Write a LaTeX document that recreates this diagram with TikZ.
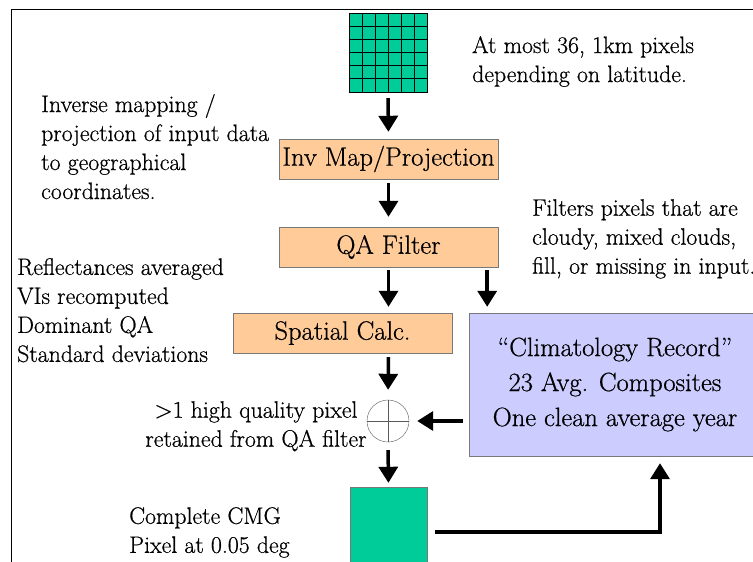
\documentclass[tikz,border=0pt]{standalone}
\usepackage{fontspec}
\setmainfont{Latin Modern Roman}[UprightFeatures={FakeBold=0.6}]
\usetikzlibrary{arrows.meta}

\definecolor{pixgreen}{RGB}{0,204,153}
\definecolor{peach}{RGB}{255,204,153}
\definecolor{lavender}{RGB}{204,204,255}
\definecolor{boxline}{RGB}{120,120,120}
\definecolor{circline}{RGB}{90,90,90}

\begin{document}
\begin{tikzpicture}[x=1pt,y=-1pt,
    flow/.style={line width=3.5pt,-{Triangle[width=19pt,length=16pt]}},
    stepbox/.style={draw=boxline,fill=peach,minimum width=219pt,minimum height=40pt,inner sep=0pt,font=\fontsize{26.5}{34}\selectfont},
    note/.style={anchor=north west,inner sep=0pt,align=left,font=\fontsize{23.8}{29}\selectfont}]
    \clip (0,0) rectangle (753,562);
    \draw [line width=1pt] (11,562) -- (11,9) -- (753,9);

    % input pixels
    \node [draw=black,fill=pixgreen,minimum width=78pt,minimum height=79pt,inner sep=0pt] (grid) at (388,52.5) {};
    \foreach \i in {1,...,5} {
      \draw [black] ([xshift=\i*13pt]grid.north west) -- ([xshift=\i*13pt]grid.south west);
      \draw [black] ([yshift=-\i*13.17pt]grid.north west) -- ([yshift=-\i*13.17pt]grid.north east);
    }

    % processing steps
    \node [stepbox] (inv) at (388.5,159) {Inv Map/Projection};
    \node [stepbox] (qa) at (388.5,247) {QA Filter};
    \node [stepbox] (spatial) at (342.5,333) {Spatial Calc.};
    \node [draw=boxline,fill=lavender,minimum width=292pt,minimum height=143pt,inner sep=0pt,align=center,font=\fontsize{26.5}{35}\selectfont] (clim) at (615,384.5) {“Climatology Record”\\23 Avg. Composites\\One clean average year};
    \node [draw=circline,circle,minimum size=42pt,inner sep=0pt,
      path picture={\draw [circline] (path picture bounding box.north) -- (path picture bounding box.south)
        (path picture bounding box.west) -- (path picture bounding box.east);}] (plus) at (388,421) {};
    \node [draw=boxline,fill=pixgreen,minimum width=77pt,minimum height=90pt,inner sep=0pt] (cmg) at (388.5,532) {};

    % arrows
    \draw [flow,shorten <=6pt,shorten >=7pt] (grid.south) -- (inv.north);
    \draw [flow,shorten <=4pt,shorten >=10pt] (inv.south) -- (qa.north);
    \draw [flow,shorten <=3pt,shorten >=6pt] (qa.south) -- (qa.south |- spatial.north);
    \draw [flow,shorten <=3pt,shorten >=6pt] ([xshift=-11pt]qa.south east) -- ([xshift=-11pt]qa.south east |- clim.north);
    \draw [flow,shorten <=4pt,shorten >=10pt] (qa.south |- spatial.south) -- (plus.north);
    \draw [flow,shorten <=6pt,shorten >=8pt] (plus.east -| clim.west) -- (plus.east);
    \draw [flow,shorten <=8pt,shorten >=4pt] (plus.south) -- (cmg.north);
    \draw [flow,shorten <=8pt,shorten >=7pt] (cmg.east) -| ([xshift=45pt]clim.south);

    % notes
    \node [note] (atmost) at (472,36) {At most 36, 1km pixels\\depending on latitude.};
    \node [note] (invnote) at (41,94) {Inverse mapping /\\projection of input data\\to geographical\\coordinates.};
    \node [note] (filtnote) at (532,199) {Filters pixels that are\\cloudy, mixed clouds,\\fill, or missing in input.};
    \node [note] (reflnote) at (17,258) {Reflectances averaged\\VIs recomputed\\Dominant QA\\Standard deviations};
    \node [note,anchor=north,align=center] (hqnote) at (256,401) {>1 high quality pixel\\retained from QA filter};
    \node [note] (cmgnote) at (129,507) {Complete CMG\\Pixel at 0.05 deg};
  \end{tikzpicture}
\end{document}
